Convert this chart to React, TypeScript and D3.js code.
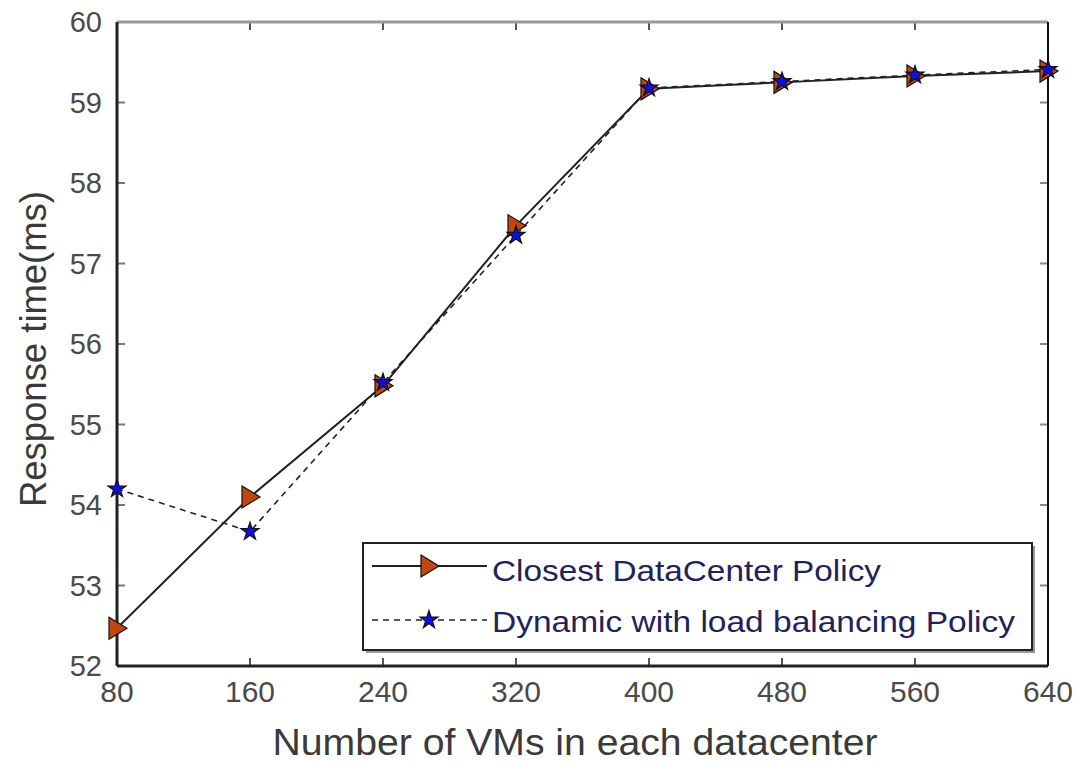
import React from "react";
import * as d3 from "d3";

const vms = [80, 160, 240, 320, 400, 480, 560, 640];
const closest = [52.47, 54.1, 55.48, 57.47, 59.17, 59.25, 59.33, 59.39];
const dynamic = [54.2, 53.67, 55.52, 57.35, 59.18, 59.26, 59.34, 59.41];
const yTicks = [52, 53, 54, 55, 56, 57, 58, 59, 60];
const legendLabels = ["Closest DataCenter Policy", "Dynamic with load balancing Policy"];

const W = 1078;
const H = 763;
const m = { left: 117, right: 1048, top: 22, bottom: 666 };

const App = () => {
  const x = d3.scaleLinear().domain([80, 640]).range([m.left, m.right]);
  const y = d3.scaleLinear().domain([52, 60]).range([m.bottom, m.top]);

  const lineGen = d3
    .line<number>()
    .x((d, i) => x(vms[i]))
    .y((d) => y(d));

  const font = "'Liberation Sans', Arial, sans-serif";
  const tri = (cx: number, cy: number, key: string) => (
    <path
      key={key}
      d={`M${cx - 8},${cy - 11} L${cx + 10},${cy} L${cx - 8},${cy + 11} Z`}
      fill="#c2460f"
      stroke="#111"
      strokeWidth={1.2}
    />
  );
  const star = d3.symbol().type(d3.symbolStar).size(100)();
  const starMark = (cx: number, cy: number, key: string) => (
    <path key={key} d={star || ""} transform={`translate(${cx},${cy})`} fill="#1010e0" stroke="#111" strokeWidth={1.2} />
  );

  const lg = { x0: 363, y0: 543, x1: 1032, y1: 650 };

  return (
    <svg width={W} height={H} style={{ position: "absolute", left: 0, top: 0, background: "#fff" }}>
      <rect x={0} y={0} width={W} height={H} fill="#fff" />
      {/* ticks */}
      {vms.map((v) => (
        <g key={"xt" + v}>
          <line x1={x(v)} x2={x(v)} y1={m.bottom} y2={m.bottom - 8} stroke="#555" strokeWidth={2} />
          <line x1={x(v)} x2={x(v)} y1={m.top} y2={m.top + 8} stroke="#555" strokeWidth={2} />
          <text x={x(v)} y={702} textAnchor="middle" fontFamily={font} fontSize={30} fill="#4a4a4a">
            {v}
          </text>
        </g>
      ))}
      {yTicks.map((t) => (
        <g key={"yt" + t}>
          <line x1={m.left} x2={m.left + 8} y1={y(t)} y2={y(t)} stroke="#777" strokeWidth={2} />
          <line x1={m.right} x2={m.right - 8} y1={y(t)} y2={y(t)} stroke="#888" strokeWidth={2} />
          <text x={102} y={y(t) + 10} textAnchor="end" fontFamily={font} fontSize={29} fill="#4a4a4a">
            {t}
          </text>
        </g>
      ))}
      {/* box */}
      <line x1={m.left} x2={m.right} y1={m.top} y2={m.top} stroke="#999" strokeWidth={3} />
      <line x1={m.left} x2={m.left} y1={m.top} y2={m.bottom} stroke="#222" strokeWidth={3} />
      <line x1={m.left} x2={m.right} y1={m.bottom} y2={m.bottom} stroke="#222" strokeWidth={3} />
      <line x1={m.right} x2={m.right} y1={m.top} y2={m.bottom} stroke="#111" strokeWidth={2} />

      {/* series */}
      <path d={lineGen(closest) || ""} fill="none" stroke="#222" strokeWidth={2} />
      <path d={lineGen(dynamic) || ""} fill="none" stroke="#222" strokeWidth={1.6} strokeDasharray="6,5" />
      {closest.map((v, i) => tri(x(vms[i]), y(v), "c" + i))}
      {dynamic.map((v, i) => starMark(x(vms[i]), y(v), "d" + i))}

      {/* legend */}
      <rect x={lg.x0 + 3} y={lg.y0 + 3} width={lg.x1 - lg.x0} height={lg.y1 - lg.y0} fill="#999" />
      <rect x={lg.x0} y={lg.y0} width={lg.x1 - lg.x0} height={lg.y1 - lg.y0} fill="#fff" stroke="#222" strokeWidth={2} />
      <line x1={372} x2={487} y1={566} y2={566} stroke="#222" strokeWidth={2} />
      {tri(429, 566, "lt")}
      <line x1={372} x2={487} y1={620} y2={620} stroke="#222" strokeWidth={1.6} strokeDasharray="6,5" />
      {starMark(429, 620, "ls")}
      <text x={492} y={581} fontFamily={font} fontSize={30} fill="#22225a" textLength={389} lengthAdjust="spacingAndGlyphs">
        {legendLabels[0]}
      </text>
      <text x={492} y={632} fontFamily={font} fontSize={30} fill="#22225a" textLength={523} lengthAdjust="spacingAndGlyphs">
        {legendLabels[1]}
      </text>

      {/* axis titles */}
      <text x={575} y={755} textAnchor="middle" fontFamily={font} fontSize={37} fill="#3a3a3a" textLength={605} lengthAdjust="spacingAndGlyphs">
        Number of VMs in each datacenter
      </text>
      <text
        transform={`translate(46,349) rotate(-90)`}
        textAnchor="middle"
        fontFamily={font}
        fontSize={37}
        fill="#3a3a3a"
        textLength={316}
        lengthAdjust="spacingAndGlyphs"
      >
        Response time(ms)
      </text>
    </svg>
  );
};

export default App;
